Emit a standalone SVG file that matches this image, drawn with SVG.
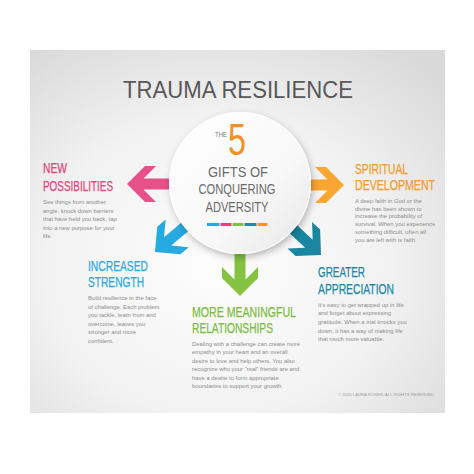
<svg xmlns="http://www.w3.org/2000/svg" xmlns:xlink="http://www.w3.org/1999/xlink" width="474" height="474" viewBox="0 0 474 474">
<style>
.h{font-family:"Liberation Sans",Arial,sans-serif;font-size:14px;stroke-width:0.25px;}
.d{font-family:"Liberation Sans",Arial,sans-serif;font-size:5.9px;fill:#8c8c8c;}
.c{font-family:"Liberation Sans",Arial,sans-serif;font-size:14.5px;fill:#6a6a6a;text-anchor:middle;}
</style>
<defs>
<radialGradient id="bg" cx="0.45" cy="0.6" r="0.75">
<stop offset="0" stop-color="#fdfdfd"/>
<stop offset="0.55" stop-color="#f2f2f2"/>
<stop offset="1" stop-color="#d9d9d9"/>
</radialGradient>
<linearGradient id="cg" x1="0" y1="0" x2="1" y2="1">
<stop offset="0" stop-color="#ffffff"/>
<stop offset="0.6" stop-color="#f8f8f8"/>
<stop offset="1" stop-color="#e6e6e6"/>
</linearGradient>
<filter id="sh" x="-30%" y="-30%" width="160%" height="160%">
<feDropShadow dx="1.5" dy="3" stdDeviation="3.5" flood-color="#000" flood-opacity="0.28"/>
</filter>
<path id="arr" d="M0,0 L-18,-18 L-29,-18 L-16.5,-5.5 L-52,-5.5 L-52,5.5 L-16.5,5.5 L-29,18 L-18,18 Z"/>
</defs>
<rect width="474" height="474" fill="#ffffff"/>
<rect x="30" y="50" width="415" height="363" fill="url(#bg)"/>
<text x="238" y="98" text-anchor="middle" font-family="'Liberation Sans',Arial,sans-serif" font-size="23" fill="#585858" textLength="230" lengthAdjust="spacingAndGlyphs">TRAUMA RESILIENCE</text>
<g id="connectors">
<use xlink:href="#arr" href="#arr" transform="translate(127,184) rotate(180)" fill="#E8508A"/>
<use xlink:href="#arr" href="#arr" transform="translate(344,185)" fill="#F8A531"/>
<use xlink:href="#arr" href="#arr" transform="translate(155,252) rotate(140)" fill="#27AAE1"/>
<use xlink:href="#arr" href="#arr" transform="translate(321,255) rotate(43)" fill="#1A86A0"/>
<use xlink:href="#arr" href="#arr" transform="translate(240,296) rotate(90)" fill="#84C241"/>
</g>
<g id="center">
<circle cx="240" cy="183" r="71" fill="url(#cg)" filter="url(#sh)"/>
<circle cx="240" cy="183" r="70.5" fill="none" stroke="#ffffff" stroke-width="1"/>
<text x="215" y="137" font-family="'Liberation Sans',Arial,sans-serif" font-size="6.5" fill="#777" textLength="12" lengthAdjust="spacingAndGlyphs">THE</text>
<text x="228" y="155" font-family="'Liberation Sans',Arial,sans-serif" font-size="44" fill="#F0902A" textLength="18" lengthAdjust="spacingAndGlyphs">5</text>
<text class="c" x="238" y="177" textLength="60" lengthAdjust="spacingAndGlyphs">GIFTS OF</text>
<text class="c" x="237" y="194" textLength="77" lengthAdjust="spacingAndGlyphs">CONQUERING</text>
<text class="c" x="237" y="212" textLength="63" lengthAdjust="spacingAndGlyphs">ADVERSITY</text>
<rect x="207" y="223" width="12.5" height="3" fill="#29A9E0"/>
<rect x="220.5" y="223" width="11" height="3" fill="#E8417A"/>
<rect x="232.5" y="223" width="11" height="3" fill="#7DC242"/>
<rect x="244.5" y="223" width="12" height="3" fill="#1A8BA8"/>
<rect x="257.5" y="223" width="10" height="3" fill="#F7941D"/>
</g>
<g id="new-possibilities">
<text class="h" x="43" y="173" fill="#E3457E" stroke="#E3457E" textLength="24" lengthAdjust="spacingAndGlyphs">NEW</text>
<text class="h" x="43" y="191" fill="#E3457E" stroke="#E3457E" textLength="70" lengthAdjust="spacingAndGlyphs">POSSIBILITIES</text>
<text class="d" x="43" y="204">See things from another</text>
<text class="d" x="43" y="212.5">angle, knock down barriers</text>
<text class="d" x="43" y="221">that have held you back, tap</text>
<text class="d" x="43" y="229.5">into a new purpose for your</text>
<text class="d" x="43" y="238">life.</text>
</g>
<g id="spiritual-development">
<text class="h" x="355" y="174" fill="#F39A2B" stroke="#F39A2B" textLength="53" lengthAdjust="spacingAndGlyphs">SPIRITUAL</text>
<text class="h" x="355" y="190" fill="#F39A2B" stroke="#F39A2B" textLength="80" lengthAdjust="spacingAndGlyphs">DEVELOPMENT</text>
<text class="d" x="355" y="203">A deep faith in God or the</text>
<text class="d" x="355" y="210.7">divine has been shown to</text>
<text class="d" x="355" y="218.4">increase the probability of</text>
<text class="d" x="355" y="226.1">survival. When you experience</text>
<text class="d" x="355" y="233.8">something difficult, often all</text>
<text class="d" x="355" y="241.5">you are left with is faith.</text>
</g>
<g id="increased-strength">
<text class="h" x="88" y="271" fill="#29A9E0" stroke="#29A9E0" textLength="60" lengthAdjust="spacingAndGlyphs">INCREASED</text>
<text class="h" x="88" y="287" fill="#29A9E0" stroke="#29A9E0" textLength="56" lengthAdjust="spacingAndGlyphs">STRENGTH</text>
<text class="d" x="88" y="300">Build resilience in the face</text>
<text class="d" x="88" y="308.5">of challenge. Each problem</text>
<text class="d" x="88" y="317">you tackle, learn from and</text>
<text class="d" x="88" y="325.5">overcome, leaves you</text>
<text class="d" x="88" y="334">stronger and more</text>
<text class="d" x="88" y="342.5">confident.</text>
</g>
<g id="greater-appreciation">
<text class="h" x="318" y="277" fill="#1D86A2" stroke="#1D86A2" textLength="47" lengthAdjust="spacingAndGlyphs">GREATER</text>
<text class="h" x="318" y="294" fill="#1D86A2" stroke="#1D86A2" textLength="76" lengthAdjust="spacingAndGlyphs">APPRECIATION</text>
<text class="d" x="318" y="306.5">It’s easy to get wrapped up in life</text>
<text class="d" x="318" y="315.2">and forget about expressing</text>
<text class="d" x="318" y="323.9">gratitude. When a trial knocks you</text>
<text class="d" x="318" y="332.6">down, it has a way of making life</text>
<text class="d" x="318" y="341.3">that much more valuable.</text>
</g>
<g id="more-meaningful-relationships">
<text class="h" x="192" y="317" fill="#7DBB42" stroke="#7DBB42" textLength="104" lengthAdjust="spacingAndGlyphs">MORE MEANINGFUL</text>
<text class="h" x="192" y="333" fill="#7DBB42" stroke="#7DBB42" textLength="81" lengthAdjust="spacingAndGlyphs">RELATIONSHIPS</text>
<text class="d" x="192" y="345.5">Dealing with a challenge can create more</text>
<text class="d" x="192" y="354">empathy in your heart and an overall</text>
<text class="d" x="192" y="362.5">desire to love and help others. You also</text>
<text class="d" x="192" y="371">recognize who your “real” friends are and</text>
<text class="d" x="192" y="379.5">have a desire to form appropriate</text>
<text class="d" x="192" y="388">boundaries to support your growth.</text>
</g>
<text x="338" y="396" font-family="'Liberation Sans',Arial,sans-serif" font-size="3.6" fill="#9a9a9a" textLength="97" lengthAdjust="spacingAndGlyphs">© 2015 LAURA ROSER. ALL RIGHTS RESERVED.</text>
</svg>
